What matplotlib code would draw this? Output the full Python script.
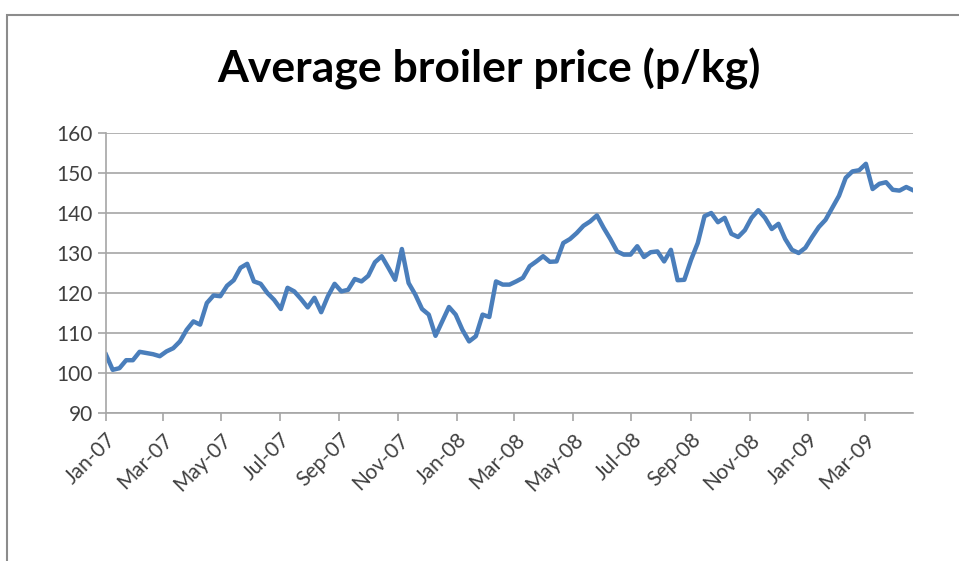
import numpy as np
import pandas as pd
import matplotlib
matplotlib.use("Agg")
import matplotlib.pyplot as plt
import matplotlib.dates as mdates
from matplotlib.patches import Rectangle

# weekly prices, Jan 2007 - Apr 2009
weeks = pd.date_range("2007-01-01", periods=121, freq="7D")
price = [
    104.6, 100.8, 101.2, 103.2, 103.2, 105.3, 105.0, 104.7, 104.2, 105.4,
    106.2, 107.9, 110.8, 112.9, 112.1, 117.5, 119.4, 119.2, 121.8, 123.2,
    126.3, 127.3, 122.9, 122.3, 120.0, 118.3, 116.0, 121.3, 120.4, 118.5,
    116.4, 118.8, 115.2, 119.2, 122.3, 120.4, 120.8, 123.5, 122.9, 124.3,
    127.7, 129.2, 126.3, 123.3, 131.0, 122.5, 119.6, 116.0, 114.6, 109.3,
    112.9, 116.5, 114.6, 110.8, 107.9, 109.2, 114.6, 114.0, 122.9, 122.1,
    122.1, 122.9, 123.8, 126.7, 127.9, 129.2, 127.8, 127.9, 132.5, 133.5,
    135.0, 136.8, 137.9, 139.4, 136.3, 133.5, 130.4, 129.6, 129.6, 131.7,
    129.0, 130.2, 130.4, 127.9, 130.8, 123.2, 123.3, 128.3, 132.5, 139.2,
    140.0, 137.7, 138.8, 134.8, 134.0, 135.7, 138.8, 140.7, 138.8, 136.0,
    137.3, 133.5, 130.8, 130.0, 131.3, 134.0, 136.5, 138.3, 141.3, 144.3,
    148.8, 150.4, 150.7, 152.3, 146.0, 147.3, 147.7, 145.8, 145.6, 146.5,
    145.7,
]
yticks = [90, 100, 110, 120, 130, 140, 150, 160]

plt.rcParams["font.family"] = ["Lato", "DejaVu Sans"]

fig = plt.figure(figsize=(9.59, 5.61), dpi=100)
ax = fig.add_axes([0.1105, 0.2638, 0.8415, 0.4991])

# outer chart frame (cut off at right and bottom)
fig.patches.append(Rectangle((7 / 959, -0.1), 1.2, 1 - 15 / 561 + 0.1,
                             transform=fig.transFigure, fill=False,
                             edgecolor="#8c8c8c", linewidth=1.5))

ax.plot(weeks, price, color="#4a7ebb", lw=3.2, solid_joinstyle="round")

ax.set_xlim(weeks[0], weeks[-1])
ax.set_ylim(90, 160)
ax.set_yticks(yticks)
ax.yaxis.grid(True, color="#a6a6a6", lw=1.2)
ax.set_axisbelow(True)

ax.xaxis.set_major_locator(mdates.MonthLocator(bymonth=[1, 3, 5, 7, 9, 11]))
ax.xaxis.set_major_formatter(mdates.DateFormatter("%b-%y"))
for lab in ax.get_xticklabels():
    lab.set_rotation(45)
    lab.set_ha("right")
    lab.set_rotation_mode("anchor")

for s in ["top", "right"]:
    ax.spines[s].set_visible(False)
for s in ["left", "bottom"]:
    ax.spines[s].set_color("#a6a6a6")
    ax.spines[s].set_linewidth(1.2)

ax.tick_params(axis="both", colors="#a6a6a6", labelcolor="#404040",
               labelsize=15, length=6, width=1.2)
ax.tick_params(axis="x", pad=6)

fig.text(0.51, 0.878, "Average broiler price (p/kg)", ha="center", va="center",
         fontsize=32, fontweight="bold", color="black")

fig.savefig("out.png", dpi=100)
